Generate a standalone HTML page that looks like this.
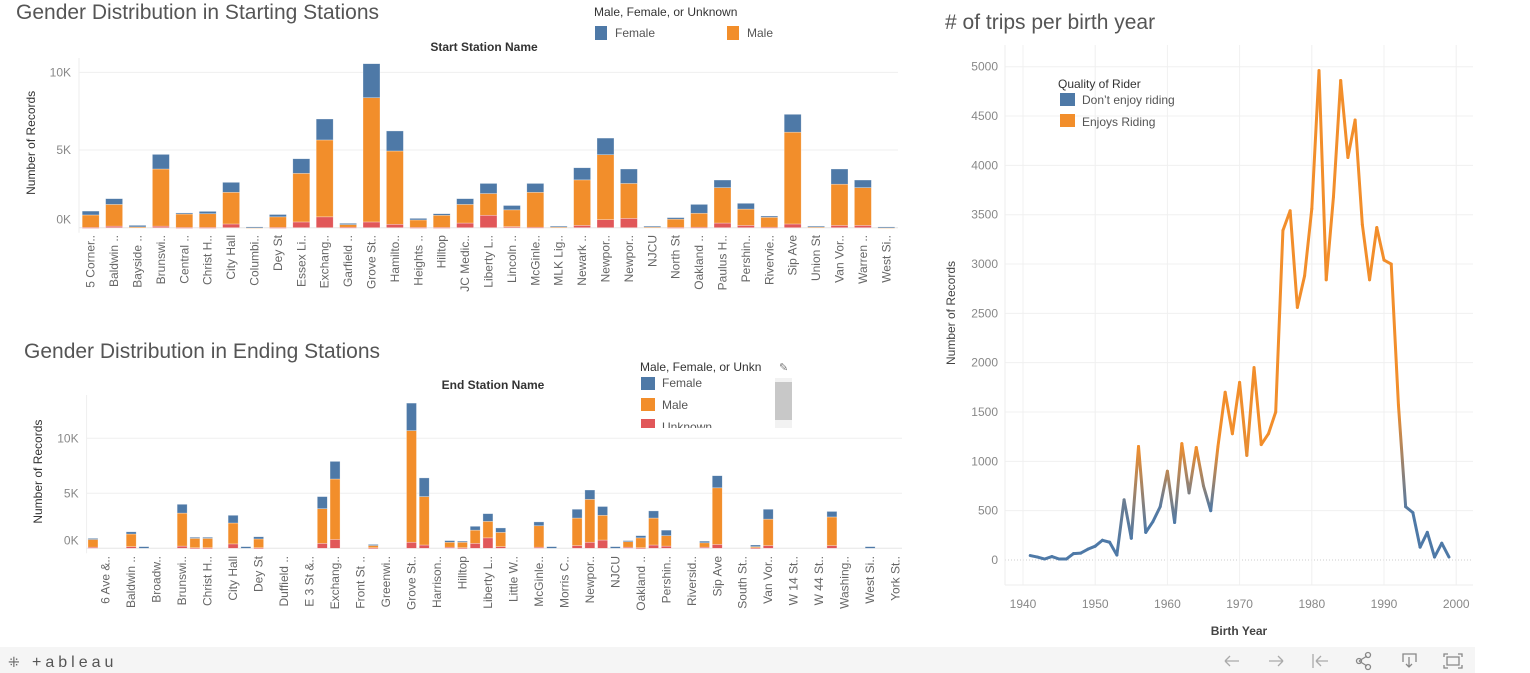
<!DOCTYPE html>
<html><head><meta charset="utf-8"><style>
html,body{margin:0;padding:0;background:#fff;width:1530px;height:673px;overflow:hidden}
svg text{font-family:"Liberation Sans",sans-serif}
</style></head><body>
<svg id="root" width="1530" height="673" viewBox="0 0 1530 673" xmlns="http://www.w3.org/2000/svg">
<g id="top"></g>
<g id="bot"></g>
<g id="line"></g>

<text x="16" y="19" font-size="21" fill="#555" font-weight="300">Gender Distribution in Starting Stations</text>
<text x="594" y="16" font-size="12" fill="#333">Male, Female, or Unknown</text>
<rect x="595" y="26" width="12" height="14" fill="#4e79a7"/>
<text x="615" y="37" font-size="12" fill="#555">Female</text>
<rect x="727" y="26" width="12" height="14" fill="#f28e2b"/>
<text x="747" y="37" font-size="12" fill="#555">Male</text>
<text x="484" y="51" font-size="12" fill="#333" text-anchor="middle" font-weight="bold">Start Station Name</text>

<text x="24" y="358" font-size="21" fill="#555" font-weight="300">Gender Distribution in Ending Stations</text>
<text x="640" y="371" font-size="12" fill="#333">Male, Female, or Unkn</text>
<text x="779" y="371" font-size="11" fill="#777">✎</text>
<rect x="641" y="377" width="14" height="13" fill="#4e79a7"/>
<text x="662" y="387" font-size="12" fill="#555">Female</text>
<rect x="641" y="398" width="14" height="13" fill="#f28e2b"/>
<text x="662" y="409" font-size="12" fill="#555">Male</text>
<clipPath id="lc"><rect x="630" y="375" width="140" height="53"/></clipPath>
<g clip-path="url(#lc)"><rect x="641" y="419" width="14" height="13" fill="#e15759"/>
<text x="662" y="431" font-size="12" fill="#555">Unknown</text></g>
<rect x="775" y="378" width="17" height="50" fill="#f2f2f2"/>
<rect x="775" y="382" width="17" height="38" fill="#c8c8c8"/>
<text x="493" y="389" font-size="12" fill="#333" text-anchor="middle" font-weight="bold">End Station Name</text>

<text x="945" y="29" font-size="21" fill="#555" font-weight="300"># of trips per birth year</text>

<rect x="0" y="647" width="1475" height="26" fill="#f5f5f5"/>
<text x="8" y="667" font-size="14" fill="#666">⁜</text>
<text x="32" y="667" font-size="16" fill="#555" letter-spacing="4">+ableau</text>
<g fill="none" stroke="#aaa" stroke-width="1.3">
<path d="M1225 661 h14 M1225 661 l5 -5 M1225 661 l5 5"/>
<path d="M1269 661 h14 M1283 661 l-5 -5 M1283 661 l-5 5"/>
<path d="M1313 654 v14 M1316 661 h12 M1316 661 l5 -5 M1316 661 l5 5"/>
<path d="M1359 661 l8 -5 M1359 661 l8 5" stroke="#888"/>
<circle cx="1359" cy="661" r="2.5" stroke="#888"/><circle cx="1368" cy="655" r="2.5" stroke="#888"/><circle cx="1368" cy="667" r="2.5" stroke="#888"/>
<path d="M1403 662 v-8 h13 v8 M1409 657 v10 M1406 664 l3 3 l3 -3" stroke="#888"/>
<path d="M1444 657 v-3 h4 M1458 654 h4 v3 M1462 665 v3 h-4 M1448 668 h-4 v-3 M1447 657 h12 v8 h-12 z" stroke="#888"/>
</g>
</svg>
<script>
// ---- Start stations data (K records) ----
const startStations=["5 Corner..","Baldwin ..","Bayside ..","Brunswi..","Central ..","Christ H..","City Hall","Columbi..","Dey St","Essex Li..","Exchang..","Garfield ..","Grove St..","Hamilto..","Heights ..","Hilltop","JC Medic..","Liberty L..","Lincoln ..","McGinle..","MLK Lig..","Newark ..","Newpor..","Newpor..","NJCU","North St","Oakland ..","Paulus H..","Pershin..","Rivervie..","Sip Ave","Union St","Van Vor..","Warren ..","West Si.."];
const startUnknown=[0.02,0.1,0,0.1,0.02,0.02,0.24,0,0.02,0.37,0.7,0.03,0.37,0.22,0.02,0.02,0.3,0.8,0.07,0.03,0,0.15,0.52,0.6,0,0.02,0.03,0.3,0.15,0.03,0.24,0,0.15,0.15,0];
const startMale=[0.8,1.4,0.05,3.68,0.86,0.88,2.04,0.02,0.68,3.13,4.95,0.17,8.0,4.72,0.48,0.78,1.2,1.4,1.08,2.25,0.05,2.93,4.18,2.25,0.05,0.53,0.9,2.28,1.05,0.64,5.91,0.05,2.65,2.43,0.02];
const startFemale=[0.25,0.37,0.1,0.94,0.07,0.15,0.64,0.03,0.15,0.94,1.35,0.08,2.19,1.29,0.1,0.1,0.37,0.65,0.28,0.57,0.05,0.78,1.07,0.93,0.05,0.1,0.57,0.49,0.37,0.08,1.15,0.05,0.98,0.49,0.03];
const startTicks=[0,5,10];
const startTickLabels=["0K","5K","10K"];

// ---- End stations data (K records), 64 categories ----
const endLabels=["6 Ave &..","Baldwin ..","Broadw..","Brunswi..","Christ H..","City Hall","Dey St","Duffield ..","E 3 St &..","Exchang..","Front St ..","Greenwi..","Grove St..","Harrison..","Hilltop","Liberty L..","Little W..","McGinle..","Morris C..","Newpor..","NJCU","Oakland ..","Pershin..","Riversid..","Sip Ave","South St..","Van Vor..","W 14 St..","W 44 St..","Washing..","West Si..","York St.."];
const endUnknown=[0.1,0,0,0.15,0,0,0,0.2,0.05,0.05,0,0.4,0,0.05,0,0,0,0,0.45,0.8,0,0,0.05,0,0,0.55,0.3,0,0.1,0.05,0.45,0.95,0.15,0,0,0.1,0,0,0.25,0.55,0.75,0,0.1,0.05,0.3,0.2,0,0,0.1,0.35,0,0,0.05,0.25,0,0,0,0,0.25,0,0,0,0,0];
const endMale=[0.7,0,0,1.15,0,0,0,3.0,0.85,0.85,0,1.9,0,0.8,0,0,0,0,3.15,5.5,0,0,0.2,0,0,10.15,4.4,0,0.45,0.5,1.2,1.5,1.3,0,0,1.95,0,0,2.5,3.9,2.25,0,0.5,0.9,2.45,0.95,0,0,0.4,5.15,0,0,0.1,2.4,0,0,0,0,2.6,0,0,0,0,0];
const endFemale=[0.1,0,0,0.2,0.15,0,0,0.8,0.1,0.1,0,0.7,0.15,0.2,0,0,0,0,1.1,1.6,0,0,0.1,0,0,2.5,1.7,0,0.15,0.1,0.35,0.7,0.4,0,0,0.35,0.15,0,0.8,0.85,0.8,0.15,0.1,0.2,0.65,0.5,0,0,0.15,1.1,0,0,0.15,0.9,0,0,0,0,0.5,0,0,0.15,0,0];
const endTicks=[0,5,10];
const endTickLabels=["0K","5K","10K"];

// ---- Birth year data ----
const years=[1941,1942,1943,1944,1945,1946,1947,1948,1949,1950,1951,1952,1953,1954,1955,1956,1957,1958,1959,1960,1961,1962,1963,1964,1965,1966,1967,1968,1969,1970,1971,1972,1973,1974,1975,1976,1977,1978,1979,1980,1981,1982,1983,1984,1985,1986,1987,1988,1989,1990,1991,1992,1993,1994,1995,1996,1997,1998,1999];
const trips=[45,30,10,35,10,10,65,70,110,140,200,180,50,610,220,1150,280,390,540,900,380,1180,680,1140,750,500,1150,1700,1280,1800,1060,1950,1170,1280,1500,3340,3540,2560,2880,3560,4960,2840,3680,4860,4080,4460,3400,2840,3370,3040,3000,1570,540,480,130,280,30,170,30];
const yTicks=[0,500,1000,1500,2000,2500,3000,3500,4000,4500,5000];
const xTicks=[1940,1950,1960,1970,1980,1990,2000];

const NS="http://www.w3.org/2000/svg";
function mk(tag,attrs,parent){const e=document.createElementNS(NS,tag);for(const k in attrs)e.setAttribute(k,attrs[k]);parent.appendChild(e);return e;}
const C={f:"#4e79a7",m:"#f28e2b",u:"#e15759"};

function stacked(g,o){
  const {left,right,base,pxK,cats,unk,male,fem,ticks,tickLabels,labels,labelEvery,labelOffset,lblY,topY,barW,axisTitleX,tickLabelDy}=o;
  const n=cats;const bw=(right-left)/n;
  const y=v=>base-v*pxK;
  const xc=i=>left+bw*(i+0.5);
  ticks.forEach((t,k)=>{
    if(t>0){const gl=mk("line",{x1:left,x2:right,y1:y(t),y2:y(t),stroke:"#efefef","stroke-width":1},g);
      
      }
    const tl=mk("text",{x:left-8,y:y(t)+4+(t===0?tickLabelDy:0),"font-size":12,fill:"#888","text-anchor":"end"},g);
    tl.textContent=tickLabels[k];
    
    
  });
  const ax=mk("line",{x1:left,x2:left,y1:topY,y2:base+5,stroke:"#eee"},g);
  
  
  const bl=mk("line",{x1:left,x2:right,y1:base,y2:base,stroke:"#e6e6e6"},g);
  
  
  for(let i=0;i<n;i++){
    const x=xc(i)-barW/2;
    const tot=unk[i]+male[i]+fem[i];
    if(tot<=0)continue;
    const parts=[[unk[i],C.u,'unknown'],[male[i],C.m,'male'],[fem[i],C.f,'female']];
    let acc=0;
    parts.forEach(p=>{
      if(p[0]<=0)return;
      const r=mk("rect",{x:x,y:y(acc+p[0]),width:barW,height:Math.max(p[0]*pxK,1),fill:p[1],stroke:"#fff","stroke-opacity":0.5,"stroke-width":0.6},g);
      
      
      acc+=p[0];
    });
  }
  labels.forEach((lb,k)=>{
    const i=k*labelEvery+labelOffset;
    const t=mk("text",{x:0,y:0,"font-size":12,fill:"#666","text-anchor":"end",transform:`translate(${xc(i)+4},${lblY}) rotate(-90)`},g);
    t.textContent=lb;
    
    
  });
  const yt=mk("text",{x:0,y:0,"font-size":12,fill:"#333","text-anchor":"middle",transform:`translate(${axisTitleX},${(topY+base)/2}) rotate(-90)`},g);
  yt.textContent="Number of Records";
  
  
}
stacked(document.getElementById('top'),{left:79,right:898,base:227.7,pxK:15.53,cats:startStations.length,unk:startUnknown,male:startMale,fem:startFemale,ticks:startTicks,tickLabels:startTickLabels,labels:startStations,labelEvery:1,labelOffset:0,lblY:235,topY:58,barW:17,axisTitleX:35,tickLabelDy:-8});
stacked(document.getElementById('bot'),{left:86.6,right:902,base:548.3,pxK:11,cats:endUnknown.length,unk:endUnknown,male:endMale,fem:endFemale,ticks:endTicks,tickLabels:endTickLabels,labels:endLabels,labelEvery:2,labelOffset:1,lblY:556,topY:395,barW:10,axisTitleX:42,tickLabelDy:-8});

// ---- line chart ----
(function(){
  const g=document.getElementById('line');
  const xs=yr=>1023+(yr-1940)*7.22;
  const ys=v=>560-v*0.09866;
  const L=1005,R=1473,T=45,B=585;
  yTicks.forEach(t=>{
    const gl=mk("line",{x1:L,x2:R,y1:ys(t),y2:ys(t),stroke:t===0?"#ccc":"#f0f0f0","stroke-dasharray":t===0?"1,2":"none"},g);
    
    
    const tl=mk("text",{x:998,y:ys(t)+4,"font-size":12,fill:"#888","text-anchor":"end"},g);
    tl.textContent=String(t);
    
    
  });
  xTicks.forEach(t=>{
    const gl=mk("line",{x1:xs(t),x2:xs(t),y1:T,y2:B,stroke:"#f0f0f0"},g);
    
    
    const tl=mk("text",{x:xs(t),y:608,"font-size":12,fill:"#888","text-anchor":"middle"},g);
    tl.textContent=String(t);
    
    
  });
  const ax=mk("line",{x1:L,x2:L,y1:T,y2:B,stroke:"#eee"},g);
  
  
  const ax2=mk("line",{x1:L,x2:R,y1:B,y2:B,stroke:"#eee"},g);
  
  
  const defs=mk("defs",{},g);
  const mix=v=>{const t=Math.max(0,Math.min(1,(v-500)/600));const a=[0x4e,0x79,0xa7],b=[0xf2,0x8e,0x2b];return "rgb("+a.map((c,i)=>Math.round(c+(b[i]-c)*t)).join(",")+")";};
  for(let i=0;i<years.length-1;i++){
    const x1=xs(years[i]),y1=ys(trips[i]),x2=xs(years[i+1]),y2=ys(trips[i+1]);
    const gr=mk("linearGradient",{id:"g"+i,gradientUnits:"userSpaceOnUse",x1:x1,y1:y1,x2:x2,y2:y2},defs);
    mk("stop",{offset:"0",["stop-color"]:mix(trips[i])},gr);
    mk("stop",{offset:"1",["stop-color"]:mix(trips[i+1])},gr);
    const seg=mk("line",{x1:x1,y1:y1,x2:x2,y2:y2,stroke:`url(#g${i})`,"stroke-width":3,"stroke-linecap":"round"},g);
    if(Math.abs(y1-y2)<0.01&&Math.abs(x1-x2)>0)seg.setAttribute('stroke',mix(trips[i]));
    
    
  }
  const xt=mk("text",{x:1239,y:635,"font-size":12,fill:"#444","text-anchor":"middle","font-weight":"bold"},g);
  xt.textContent="Birth Year";
  
  
  const yt=mk("text",{x:0,y:0,"font-size":12,fill:"#444","text-anchor":"middle",transform:"translate(955,313) rotate(-90)"},g);
  yt.textContent="Number of Records";
  
  
  const lt=mk("text",{x:1058,y:88,"font-size":12,fill:"#333"},g);
  lt.textContent="Quality of Rider";
  
  
  const s1=mk("rect",{x:1060,y:93,width:15,height:13,fill:C.f},g);
  
  
  const l1=mk("text",{x:1082,y:104,"font-size":12,fill:"#555"},g);
  l1.textContent="Don’t enjoy riding";
  
  
  const s2=mk("rect",{x:1060,y:114,width:15,height:13,fill:C.m},g);
  
  
  const l2=mk("text",{x:1082,y:126,"font-size":12,fill:"#555"},g);
  l2.textContent="Enjoys Riding";
  
  
})();
</script>
</body></html>
